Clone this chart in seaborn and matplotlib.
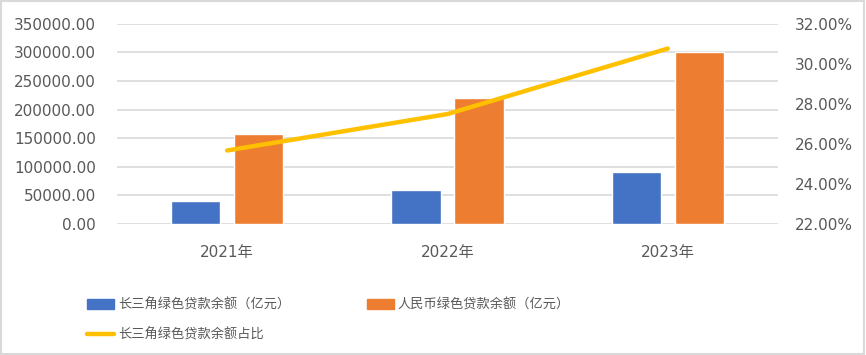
import matplotlib
matplotlib.use("Agg")
import matplotlib.pyplot as plt
import seaborn as sns
import pandas as pd
from matplotlib.ticker import FuncFormatter, MultipleLocator
from matplotlib.patches import Rectangle, Patch
from matplotlib.lines import Line2D

years = ["2021年", "2022年", "2023年"]
yrd_loans = [40200, 59400, 90900]
rmb_loans = [157300, 220200, 300550]
yrd_share = [25.67, 27.49, 30.76]
series_names = ["长三角绿色贷款余额（亿元）", "人民币绿色贷款余额（亿元）", "长三角绿色贷款余额占比"]

sns.set_theme(style="white")
plt.rcParams['font.family'] = ['DejaVu Sans', 'Noto Sans CJK SC']

df = pd.DataFrame({
    "year": years * 2,
    "value": yrd_loans + rmb_loans,
    "series": [series_names[0]] * 3 + [series_names[1]] * 3,
})

fig = plt.figure(figsize=(8.66, 3.55), dpi=100)
ax = fig.add_axes([0.1351, 0.369, 0.7633, 0.5642])
blue, orange, gold = "#4472C4", "#ED7D31", "#FFC000"
sns.barplot(data=df, x="year", y="value", hue="series", palette=[blue, orange],
            width=0.572, gap=0.22, ax=ax, legend=False, saturation=1)
ax.set_ylim(0, 350000)
ax.set_xlim(-0.5, 2.5)
ax.yaxis.set_major_locator(MultipleLocator(50000))
ax.yaxis.set_major_formatter(FuncFormatter(lambda v, p: f"{v:.2f}"))
ax.grid(axis="y", color="#d9d9d9", linewidth=1.2)
ax.set_axisbelow(True)
for s in ax.spines.values():
    s.set_visible(False)
ax.set_xlabel("")
ax.set_ylabel("")
ax.tick_params(axis="both", length=0, labelsize=11, labelcolor="#595959")
ax.tick_params(axis="y", pad=15)
ax.tick_params(axis="x", pad=15)

ax2 = ax.twinx()
ax2.plot(range(len(years)), yrd_share, color=gold, linewidth=3.2, solid_capstyle="round")
ax2.set_ylim(22, 32)
ax2.yaxis.set_major_locator(MultipleLocator(2))
ax2.yaxis.set_major_formatter(FuncFormatter(lambda v, p: f"{v:.2f}%"))
for s in ax2.spines.values():
    s.set_visible(False)
ax2.tick_params(axis="y", length=0, labelsize=11, labelcolor="#595959", pad=12)
ax2.grid(False)

handles = [Patch(color=blue), Line2D([0], [0], color=gold, linewidth=3.2, solid_capstyle="round"),
           Patch(color=orange)]
labels = [series_names[0], series_names[2], series_names[1]]
leg = fig.legend(handles, labels, ncol=2, loc="upper left", bbox_to_anchor=(0.1005, 0.16),
                 frameon=False, prop={"family": ["Noto Sans CJK SC", "DejaVu Sans"], "size": 9.5},
                 labelcolor="#595959", handlelength=2.05, borderpad=0,
                 handletextpad=0.3, columnspacing=5.8, borderaxespad=0, labelspacing=1.26)

fig.patches.append(Rectangle((0.001, 0.002), 0.997, 0.995, transform=fig.transFigure,
                             fill=False, edgecolor="#d9d9d9", linewidth=1.5))
fig.savefig("out.png", dpi=100)
